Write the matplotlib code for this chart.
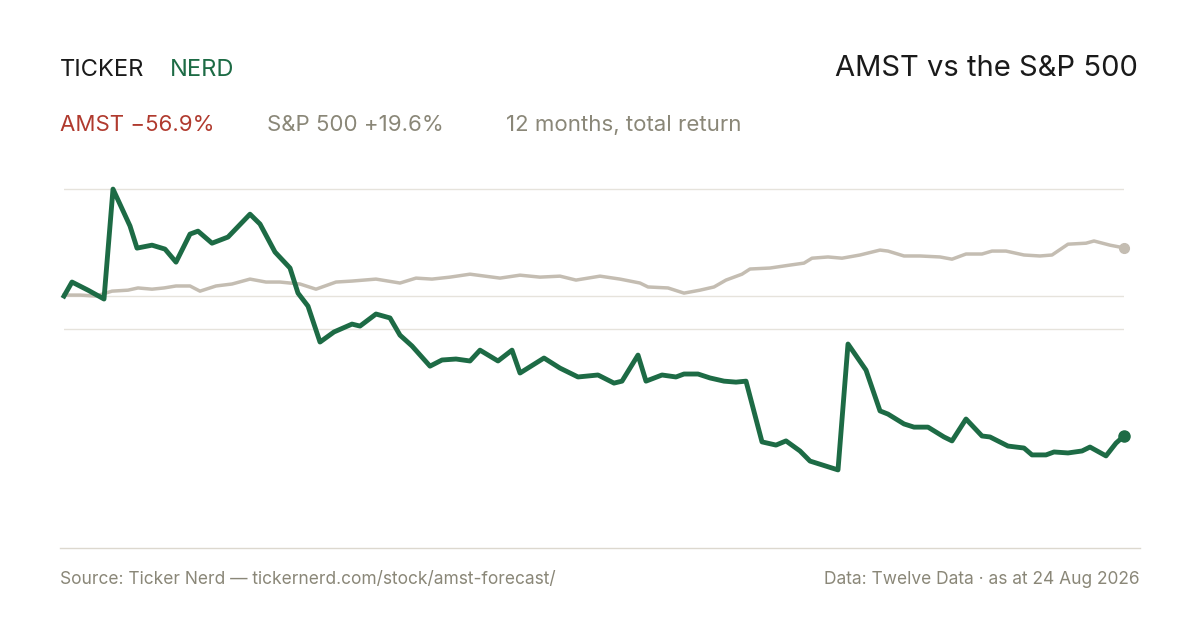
import numpy as np
import matplotlib.pyplot as plt

# trading position (0..1060 across the year) and cumulative return %
amst_x = [0, 8, 24, 40, 49, 66, 73, 88, 101, 112, 126, 134, 148, 164, 186, 196, 211, 226, 234, 244,
          256, 270, 288, 296, 312, 326, 336, 348, 366, 378, 392, 406, 416, 434, 448, 456, 480, 496,
          514, 534, 550, 558, 574, 582, 598, 612, 620, 634, 646, 660, 672, 682, 698, 712, 722, 736,
          746, 774, 784, 802, 816, 824, 840, 850, 864, 880, 888, 902, 918, 926, 944, 960, 968, 982,
          990, 1004, 1018, 1026, 1042, 1052, 1060]
amst_y = [0, 5.7, 2.4, -1.2, 43.5, 28.5, 19.5, 20.7, 19.1, 13.8, 25.2, 26.4, 21.5, 24.0, 33.3, 29.3,
          17.9, 11.4, 1.2, -4.1, -18.7, -14.6, -11.4, -12.2, -7.3, -8.9, -15.9, -20.3, -28.5, -26.0,
          -25.6, -26.4, -22.0, -26.4, -22.0, -31.3, -25.2, -29.3, -32.9, -32.1, -35.4, -34.6, -24.0,
          -34.6, -32.1, -32.9, -31.7, -31.7, -33.3, -34.6, -35.0, -34.6, -59.3, -60.6, -58.9, -63.0,
          -67.1, -70.7, -19.5, -30.1, -46.7, -48.0, -52.0, -53.3, -53.3, -57.3, -58.9, -50.0, -56.9,
          -57.3, -61.0, -61.8, -64.6, -64.6, -63.4, -63.8, -63.0, -61.4, -65.0, -59.8, -56.9]

sp_x = [0, 16, 32, 48, 64, 74, 88, 100, 112, 126, 136, 152, 168, 186, 202, 216, 236, 252, 272, 288,
        312, 336, 352, 368, 386, 406, 436, 456, 476, 496, 512, 536, 556, 576, 584, 604, 620, 636,
        650, 662, 678, 686, 706, 726, 740, 748, 764, 778, 796, 816, 824, 840, 856, 876, 888, 902,
        918, 928, 942, 960, 976, 988, 1004, 1022, 1030, 1046, 1060]
sp_y = [0.4, 0.4, 0, 2.0, 2.4, 3.3, 2.8, 3.3, 4.1, 4.1, 2.0, 4.1, 4.9, 6.9, 5.7, 5.7, 4.9, 2.8, 5.7,
        6.1, 6.9, 5.3, 7.3, 6.9, 7.7, 8.9, 7.3, 8.5, 7.7, 8.1, 6.5, 8.1, 6.9, 5.3, 3.7, 3.3, 1.2, 2.4,
        3.7, 6.5, 8.9, 11.0, 11.4, 12.6, 13.4, 15.4, 15.9, 15.4, 16.7, 18.7, 18.3, 16.3, 16.3, 15.9,
        15.0, 17.1, 17.1, 18.3, 18.3, 16.7, 16.3, 16.7, 21.1, 21.5, 22.4, 20.7, 19.6]

green = '#1d6b45'
red = '#b03a2e'
grey = '#8a8778'
sp_col = '#c4bdb2'

plt.rcParams['font.family'] = ['Inter', 'DejaVu Sans']
fig = plt.figure(figsize=(12, 6.3), dpi=100)
W, H = 1200, 630
ax = fig.add_axes([64 / W, 1 - 540 / H, 1060 / W, 360 / H])
ax.set_xlim(0, 1060)
ax.set_ylim(-99.2, 47.2)
ax.axis('off')
for g in [43.5, 0, -13.4]:
    ax.axhline(g, color='#e6e3dc', lw=1, zorder=0)

ax.plot(sp_x, sp_y, color=sp_col, lw=2.5, clip_on=False)
ax.plot(sp_x[-1], sp_y[-1], 'o', color=sp_col, ms=7, clip_on=False)
ax.plot(amst_x, amst_y, color=green, lw=3.5, solid_joinstyle='round', clip_on=False)
ax.plot(amst_x[-1], amst_y[-1], 'o', color=green, ms=8, clip_on=False)

fig.add_artist(plt.Line2D([60 / W, 1140 / W], [1 - 548 / H] * 2, color='#dcd8cf', lw=1))

t = fig.text(60 / W, 1 - 70 / H, 'TICKER', fontsize=17, color='#1a1a1a', va='center')
fig.text(170 / W, 1 - 70 / H, 'NERD', fontsize=17, color=green, va='center')
fig.text(1138 / W, 1 - 68 / H, 'AMST vs the S&P 500', fontsize=21, color='#1a1a1a',
         ha='right', va='center')
fig.text(60 / W, 1 - 125 / H, 'AMST \u221256.9%', fontsize=16, color=red, va='center')
fig.text(267 / W, 1 - 125 / H, 'S&P 500 +19.6%', fontsize=16, color=grey, va='center')
fig.text(506 / W, 1 - 125 / H, '12 months, total return', fontsize=16, color=grey, va='center')
fig.text(60 / W, 1 - 580 / H, 'Source: Ticker Nerd \u2014 tickernerd.com/stock/amst-forecast/',
         fontsize=12.5, color=grey, va='center')
fig.text(1140 / W, 1 - 580 / H, 'Data: Twelve Data \u00b7 as at 24 Aug 2026',
         fontsize=12.5, color=grey, va='center', ha='right')

fig.savefig('out.png', dpi=100, facecolor='white')
